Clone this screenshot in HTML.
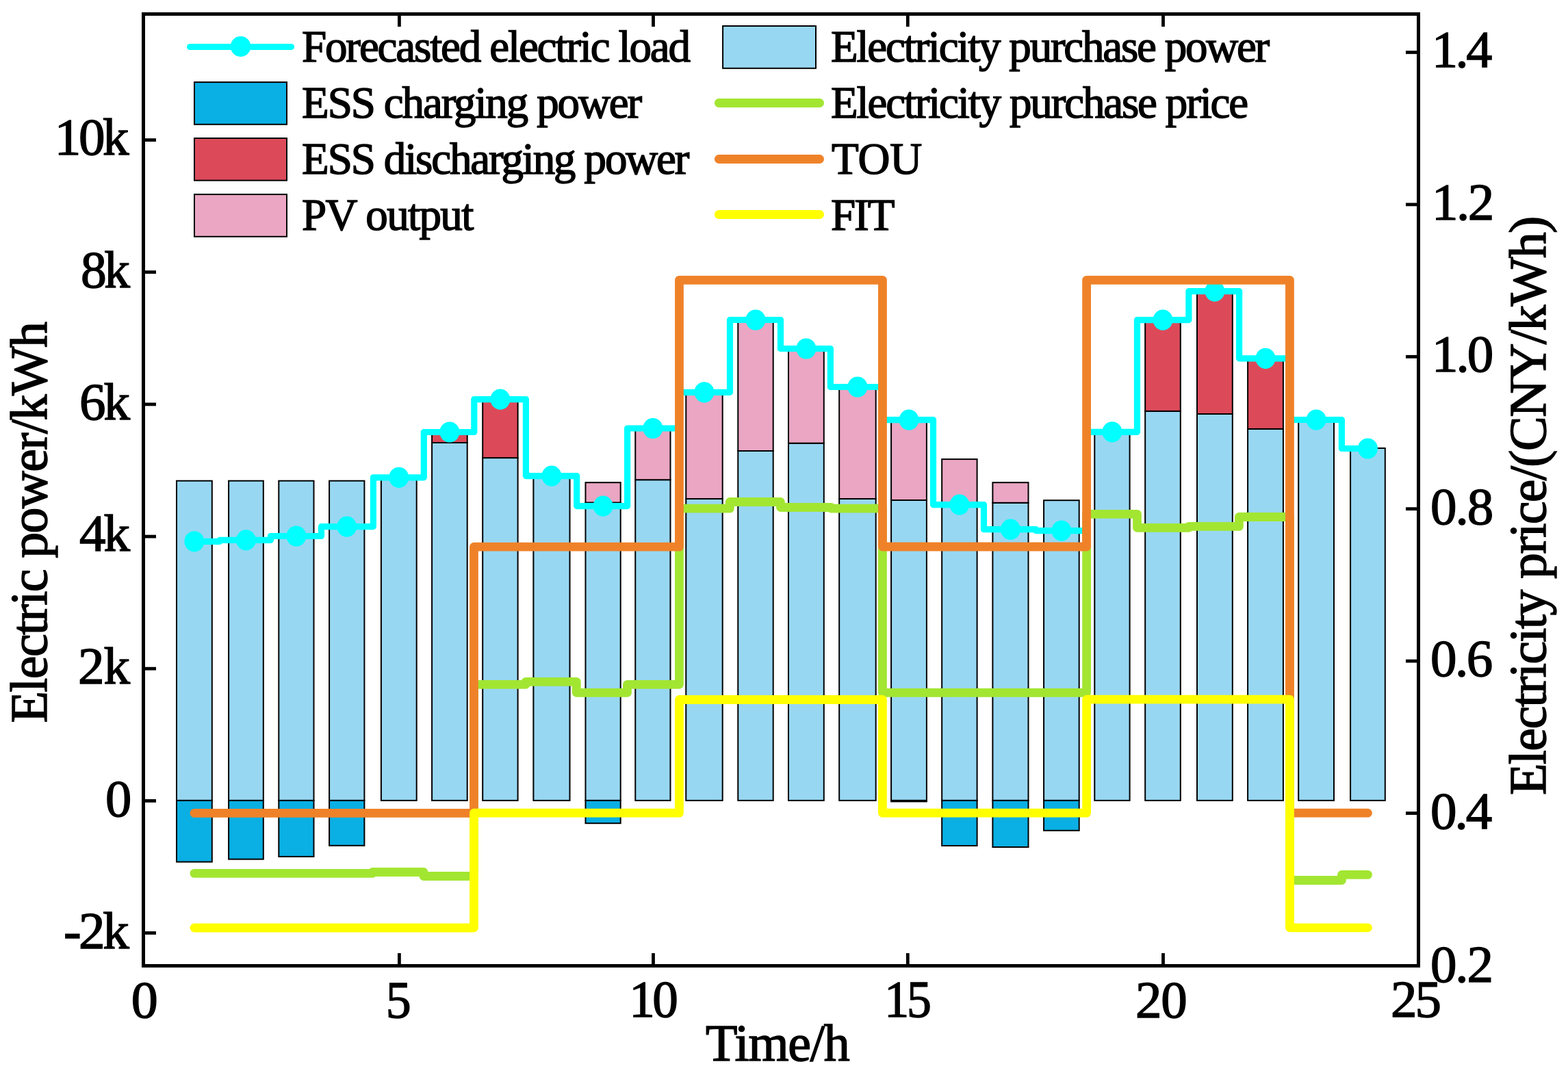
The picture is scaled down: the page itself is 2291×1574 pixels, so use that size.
<!DOCTYPE html>
<html><head><meta charset="utf-8"><title>Chart</title>
<style>html,body{margin:0;padding:0;background:#fff;overflow:hidden;width:2291px;height:1574px;}svg{display:block;}</style>
</head><body>
<svg width="2291" height="1574" viewBox="0 0 2291 1574">
<rect x="0" y="0" width="2291" height="1574" fill="#ffffff"/>
<g stroke="#000" stroke-width="2.0" stroke-linejoin="miter">
<rect x="258.00" y="702.70" width="51.80" height="467.20" fill="#98D7F2"/>
<rect x="258.00" y="1169.90" width="51.80" height="89.70" fill="#0AAFE3"/>
<rect x="334.10" y="702.70" width="50.70" height="467.20" fill="#98D7F2"/>
<rect x="334.10" y="1169.90" width="50.70" height="85.80" fill="#0AAFE3"/>
<rect x="407.30" y="702.70" width="51.20" height="467.20" fill="#98D7F2"/>
<rect x="407.30" y="1169.90" width="51.20" height="82.00" fill="#0AAFE3"/>
<rect x="481.10" y="702.70" width="51.30" height="467.20" fill="#98D7F2"/>
<rect x="481.10" y="1169.90" width="51.30" height="65.90" fill="#0AAFE3"/>
<rect x="556.90" y="697.50" width="51.80" height="472.40" fill="#98D7F2"/>
<rect x="631.10" y="647.00" width="51.60" height="522.90" fill="#98D7F2"/>
<rect x="631.10" y="634.50" width="51.60" height="12.50" fill="#DC4A5A"/>
<rect x="705.20" y="669.10" width="51.40" height="500.80" fill="#98D7F2"/>
<rect x="705.20" y="587.00" width="51.40" height="82.10" fill="#DC4A5A"/>
<rect x="779.40" y="696.00" width="53.10" height="473.90" fill="#98D7F2"/>
<rect x="855.50" y="734.50" width="51.20" height="435.40" fill="#98D7F2"/>
<rect x="855.50" y="705.20" width="51.20" height="29.30" fill="#EAA6C3"/>
<rect x="855.50" y="1169.90" width="51.20" height="33.30" fill="#0AAFE3"/>
<rect x="928.30" y="701.20" width="51.20" height="468.70" fill="#98D7F2"/>
<rect x="928.30" y="628.50" width="51.20" height="72.70" fill="#EAA6C3"/>
<rect x="1002.30" y="729.00" width="53.40" height="440.90" fill="#98D7F2"/>
<rect x="1002.30" y="576.00" width="53.40" height="153.00" fill="#EAA6C3"/>
<rect x="1078.30" y="659.00" width="51.40" height="510.90" fill="#98D7F2"/>
<rect x="1078.30" y="470.50" width="51.40" height="188.50" fill="#EAA6C3"/>
<rect x="1152.00" y="647.70" width="51.80" height="522.20" fill="#98D7F2"/>
<rect x="1152.00" y="512.50" width="51.80" height="135.20" fill="#EAA6C3"/>
<rect x="1226.20" y="729.00" width="53.50" height="440.90" fill="#98D7F2"/>
<rect x="1226.20" y="568.50" width="53.50" height="160.50" fill="#EAA6C3"/>
<rect x="1302.10" y="731.00" width="51.80" height="438.90" fill="#98D7F2"/>
<rect x="1302.10" y="616.50" width="51.80" height="114.50" fill="#EAA6C3"/>
<rect x="1302.10" y="1169.90" width="51.80" height="1.50" fill="#0AAFE3"/>
<rect x="1376.20" y="738.00" width="51.40" height="431.90" fill="#98D7F2"/>
<rect x="1376.20" y="671.10" width="51.40" height="66.90" fill="#EAA6C3"/>
<rect x="1376.20" y="1169.90" width="51.40" height="66.10" fill="#0AAFE3"/>
<rect x="1450.40" y="734.80" width="52.10" height="435.10" fill="#98D7F2"/>
<rect x="1450.40" y="705.20" width="52.10" height="29.60" fill="#EAA6C3"/>
<rect x="1450.40" y="1169.90" width="52.10" height="68.10" fill="#0AAFE3"/>
<rect x="1525.10" y="731.20" width="51.60" height="438.70" fill="#98D7F2"/>
<rect x="1525.10" y="1169.90" width="51.60" height="43.90" fill="#0AAFE3"/>
<rect x="1599.30" y="632.00" width="51.30" height="537.90" fill="#98D7F2"/>
<rect x="1673.20" y="600.90" width="51.60" height="569.00" fill="#98D7F2"/>
<rect x="1673.20" y="470.50" width="51.60" height="130.40" fill="#DC4A5A"/>
<rect x="1749.00" y="605.00" width="51.80" height="564.90" fill="#98D7F2"/>
<rect x="1749.00" y="428.50" width="51.80" height="176.50" fill="#DC4A5A"/>
<rect x="1823.10" y="626.90" width="51.80" height="543.00" fill="#98D7F2"/>
<rect x="1823.10" y="526.50" width="51.80" height="100.40" fill="#DC4A5A"/>
<rect x="1897.20" y="614.50" width="51.80" height="555.40" fill="#98D7F2"/>
<rect x="1973.10" y="655.00" width="50.70" height="514.90" fill="#98D7F2"/>
</g>
<path d="M283.90 791.30 L321.00 791.30 L321.00 789.40 L395.40 789.40 L395.40 783.50 L469.50 783.50 L469.50 769.60 L545.40 769.60 L545.40 697.80 L619.30 697.80 L619.30 631.50 L692.80 631.50 L692.80 583.60 L768.40 583.60 L768.40 695.60 L842.70 695.60 L842.70 739.60 L916.60 739.60 L916.60 626.00 L992.45 626.00 L992.45 573.30 L1066.50 573.30 L1066.50 467.50 L1140.50 467.50 L1140.50 509.50 L1213.40 509.50 L1213.40 565.50 L1289.45 565.50 L1289.45 613.60 L1363.50 613.60 L1363.50 737.60 L1437.50 737.60 L1437.50 773.70 L1513.50 773.70 L1513.50 775.60 L1587.60 775.60 L1587.60 631.30 L1661.50 631.30 L1661.50 467.60 L1736.90 467.60 L1736.90 425.60 L1810.60 425.60 L1810.60 523.80 L1884.45 523.80 L1884.45 613.50 L1960.40 613.50 L1960.40 655.50 L1998.45 655.50" fill="none" stroke="#00FFFF" stroke-width="9.2" stroke-linejoin="round" stroke-linecap="butt"/>
<g fill="#00FFFF">
<ellipse cx="283.90" cy="791.30" rx="14.5" ry="15.1"/>
<ellipse cx="359.45" cy="789.40" rx="14.5" ry="15.1"/>
<ellipse cx="432.90" cy="783.50" rx="14.5" ry="15.1"/>
<ellipse cx="506.75" cy="769.60" rx="14.5" ry="15.1"/>
<ellipse cx="582.80" cy="697.80" rx="14.5" ry="15.1"/>
<ellipse cx="656.90" cy="631.50" rx="14.5" ry="15.1"/>
<ellipse cx="730.90" cy="583.60" rx="14.5" ry="15.1"/>
<ellipse cx="805.95" cy="695.60" rx="14.5" ry="15.1"/>
<ellipse cx="881.10" cy="739.60" rx="14.5" ry="15.1"/>
<ellipse cx="953.90" cy="626.00" rx="14.5" ry="15.1"/>
<ellipse cx="1029.00" cy="573.30" rx="14.5" ry="15.1"/>
<ellipse cx="1104.00" cy="467.50" rx="14.5" ry="15.1"/>
<ellipse cx="1177.90" cy="509.50" rx="14.5" ry="15.1"/>
<ellipse cx="1252.95" cy="565.50" rx="14.5" ry="15.1"/>
<ellipse cx="1328.00" cy="613.60" rx="14.5" ry="15.1"/>
<ellipse cx="1401.90" cy="737.60" rx="14.5" ry="15.1"/>
<ellipse cx="1476.45" cy="773.70" rx="14.5" ry="15.1"/>
<ellipse cx="1550.90" cy="775.60" rx="14.5" ry="15.1"/>
<ellipse cx="1624.95" cy="631.30" rx="14.5" ry="15.1"/>
<ellipse cx="1699.00" cy="467.60" rx="14.5" ry="15.1"/>
<ellipse cx="1774.90" cy="425.60" rx="14.5" ry="15.1"/>
<ellipse cx="1849.00" cy="523.80" rx="14.5" ry="15.1"/>
<ellipse cx="1923.10" cy="613.50" rx="14.5" ry="15.1"/>
<ellipse cx="1998.45" cy="655.50" rx="14.5" ry="15.1"/>
</g>
<path d="M283.90 1276.40 L321.68 1276.40 L321.68 1276.40 L396.18 1276.40 L396.18 1276.40 L469.82 1276.40 L469.82 1276.40 L544.20 1276.40 L544.20 1274.50 L619.00 1274.50 L619.00 1280.50 L692.45 1280.50 L692.45 1000.30 L768.20 1000.30 L768.20 996.40 L842.30 996.40 L842.30 1012.30 L916.50 1012.30 L916.50 1000.30 L992.45 1000.30 L992.45 743.20 L1066.30 743.20 L1066.30 733.50 L1140.50 733.50 L1140.50 741.50 L1214.60 741.50 L1214.60 743.20 L1289.45 743.20 L1289.45 1012.30 L1364.95 1012.30 L1364.95 1012.30 L1439.18 1012.30 L1439.18 1012.30 L1513.68 1012.30 L1513.68 1012.30 L1587.60 1012.30 L1587.60 751.40 L1661.50 751.40 L1661.50 771.30 L1737.00 771.30 L1737.00 769.40 L1810.40 769.40 L1810.40 755.50 L1884.45 755.50 L1884.45 1286.50 L1960.50 1286.50 L1960.50 1278.40 L1998.45 1278.40" fill="none" stroke="#A2E632" stroke-width="12.8" stroke-linejoin="round" stroke-linecap="round"/>
<path d="M283.90 1188.40 L692.45 1188.40 L692.45 799.20 L992.45 799.20 L992.45 409.40 L1289.45 409.40 L1289.45 799.00 L1587.60 799.00 L1587.60 409.40 L1884.45 409.40 L1884.45 1188.20 L1998.45 1188.20" fill="none" stroke="#EF8229" stroke-width="12.8" stroke-linejoin="round" stroke-linecap="round"/>
<path d="M283.90 1356.00 L692.45 1356.00 L692.45 1188.20 L992.45 1188.20 L992.45 1022.50 L1289.45 1022.50 L1289.45 1188.20 L1587.60 1188.20 L1587.60 1022.20 L1884.45 1022.20 L1884.45 1355.80 L1998.45 1355.80" fill="none" stroke="#FFFF00" stroke-width="12.8" stroke-linejoin="round" stroke-linecap="round"/>
<rect x="209.5" y="20.5" width="1863" height="1391" fill="none" stroke="#000" stroke-width="5"/>
<g stroke="#000" stroke-width="4.8">
<line x1="583.4" y1="1409" x2="583.4" y2="1393"/>
<line x1="583.4" y1="23" x2="583.4" y2="39"/>
<line x1="954.5" y1="1409" x2="954.5" y2="1393"/>
<line x1="954.5" y1="23" x2="954.5" y2="39"/>
<line x1="1326.3" y1="1409" x2="1326.3" y2="1393"/>
<line x1="1326.3" y1="23" x2="1326.3" y2="39"/>
<line x1="1699.5" y1="1409" x2="1699.5" y2="1393"/>
<line x1="1699.5" y1="23" x2="1699.5" y2="39"/>
<line x1="212" y1="204.6" x2="228" y2="204.6"/>
<line x1="212" y1="397.7" x2="228" y2="397.7"/>
<line x1="212" y1="590.9" x2="228" y2="590.9"/>
<line x1="212" y1="784.1" x2="228" y2="784.1"/>
<line x1="212" y1="977.2" x2="228" y2="977.2"/>
<line x1="212" y1="1170.4" x2="228" y2="1170.4"/>
<line x1="212" y1="1363.5" x2="228" y2="1363.5"/>
<line x1="2070" y1="76.5" x2="2054" y2="76.5"/>
<line x1="2070" y1="298.9" x2="2054" y2="298.9"/>
<line x1="2070" y1="521.3" x2="2054" y2="521.3"/>
<line x1="2070" y1="743.7" x2="2054" y2="743.7"/>
<line x1="2070" y1="966.1" x2="2054" y2="966.1"/>
<line x1="2070" y1="1188.5" x2="2054" y2="1188.5"/>
</g>
<g font-family='"Liberation Serif", serif' fill="#000" stroke="#000" stroke-width="1.5">
<text transform="translate(79.75,226.40)" font-size="77" letter-spacing="-3.375">10k</text>
<text transform="translate(117.94,420.30) scale(0.9793,1)" font-size="77" letter-spacing="-3.500">8k</text>
<text transform="translate(116.00,613.30)" font-size="77" letter-spacing="-3.100">6k</text>
<text transform="translate(115.90,805.30)" font-size="77" letter-spacing="-3.000">4k</text>
<text transform="translate(113.90,999.30)" font-size="77" letter-spacing="-1.000">2k</text>
<text transform="translate(154.01,1192.50) scale(0.9941,1)" font-size="77" letter-spacing="0.000">0</text>
<text transform="translate(92.90,1386.30)" font-size="77" letter-spacing="-3.450">-2k</text>
<text transform="translate(2091.97,98.30) scale(0.9892,1)" font-size="77" letter-spacing="-3.500">1.4</text>
<text transform="translate(2091.90,320.80)" font-size="77" letter-spacing="-2.450">1.2</text>
<text transform="translate(2091.90,543.20)" font-size="77" letter-spacing="-2.950">1.0</text>
<text transform="translate(2090.00,765.60)" font-size="77" letter-spacing="-2.000">0.8</text>
<text transform="translate(2090.00,988.00)" font-size="77" letter-spacing="-2.500">0.6</text>
<text transform="translate(2090.00,1210.50)" font-size="77" letter-spacing="-3.000">0.4</text>
<text transform="translate(2089.90,1435.00)" font-size="77" letter-spacing="-2.050">0.2</text>
<text transform="translate(191.67,1486.50) scale(1.0147,1)" font-size="77" letter-spacing="0.000">0</text>
<text transform="translate(563.76,1486.50) scale(0.9594,1)" font-size="77" letter-spacing="0.000">5</text>
<text transform="translate(919.14,1485.80) scale(0.9771,1)" font-size="77" letter-spacing="-3.500">10</text>
<text transform="translate(1292.30,1486.00) scale(0.9328,1)" font-size="77" letter-spacing="-3.500">15</text>
<text transform="translate(1658.90,1486.50)" font-size="77" letter-spacing="-1.100">20</text>
<text transform="translate(2031.90,1486.00)" font-size="77" letter-spacing="-3.000">25</text>
<text transform="translate(1031.00,1549.90)" font-size="76" letter-spacing="-1.240">Time/h</text>
<text transform="translate(67.90,1056.50) rotate(-90)" font-size="76" letter-spacing="-1.618">Electric power/kWh</text>
<text transform="translate(2258.10,1162.00) rotate(-90)" font-size="76" letter-spacing="-1.619">Electricity price/(CNY/kWh)</text>
<text transform="translate(441.00,90.10)" font-size="65" letter-spacing="-2.139">Forecasted electric load</text>
<text transform="translate(441.10,172.20)" font-size="65" letter-spacing="-2.124">ESS charging power</text>
<text transform="translate(441.10,254.10)" font-size="65" letter-spacing="-2.135">ESS discharging power</text>
<text transform="translate(441.10,335.80)" font-size="65" letter-spacing="-1.638">PV output</text>
<text transform="translate(1214.00,90.00)" font-size="65" letter-spacing="-2.216">Electricity purchase power</text>
<text transform="translate(1214.00,172.00)" font-size="65" letter-spacing="-2.160">Electricity purchase price</text>
<text transform="translate(1215.00,253.80)" font-size="65" letter-spacing="-0.100">TOU</text>
<text transform="translate(1214.00,335.80)" font-size="65" letter-spacing="-2.050">FIT</text>
</g>
<line x1="277.6" y1="68.5" x2="425.5" y2="68.5" stroke="#00FFFF" stroke-width="9.2" stroke-linecap="round"/>
<ellipse cx="351.6" cy="67.9" rx="14.7" ry="15" fill="#00FFFF"/>
<g stroke="#000" stroke-width="2">
<rect x="284" y="120.1" width="135" height="61.7" fill="#0AAFE3"/>
<rect x="284" y="202" width="135" height="61.7" fill="#DC4A5A"/>
<rect x="284" y="284.1" width="135" height="61.7" fill="#EAA6C3"/>
<rect x="1056.1" y="38" width="135.9" height="61.8" fill="#98D7F2"/>
</g>
<line x1="1050.3" y1="150.5" x2="1197.6" y2="150.5" stroke="#A2E632" stroke-width="12.8" stroke-linecap="round"/>
<line x1="1050.3" y1="232.5" x2="1197.6" y2="232.5" stroke="#EF8229" stroke-width="12.8" stroke-linecap="round"/>
<line x1="1050.3" y1="313.5" x2="1197.6" y2="313.5" stroke="#FFFF00" stroke-width="12.8" stroke-linecap="round"/>
</svg>
</body></html>
